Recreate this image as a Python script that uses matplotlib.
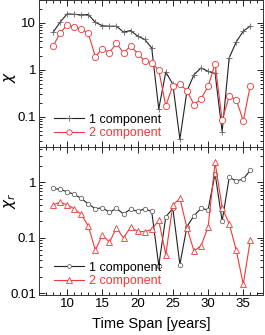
import matplotlib
matplotlib.use("Agg")
import matplotlib.pyplot as plt
from matplotlib.ticker import LogLocator, NullFormatter, MultipleLocator

plt.rcParams['font.family'] = ['Liberation Sans', 'DejaVu Sans']
plt.rcParams['mathtext.fontset'] = 'dejavusans'

years = list(range(8, 37))

chi_1comp = [6.2, 10.3, 15.4, 15.1, 14.6, 14.9, 10.2, 8.6, 8.4, 8.4, 6.3, 6.8, 5.2, 4.4, 2.9,
             0.146, 0.89, 0.49, 0.033, 0.35, 0.78, 1.09, 0.92, 0.83, 0.048, 1.78, 3.9, 6.6, 8.5]
chi_2comp = [3.14, 6.1, 8.9, 8.1, 7.3, 5.9, 1.9, 2.8, 2.3, 3.7, 2.25, 3.2, 2.2, 1.54, 1.39,
             0.98, 0.17, 0.46, 0.49, 0.36, 0.18, 0.24, 0.44, 1.33, 0.083, 0.275, 0.23, 0.082, 0.46]

chir_1comp = [0.78, 0.75, 0.68, 0.61, 0.515, 0.41, 0.335, 0.35, 0.29, 0.34, 0.27, 0.33, 0.30, 0.335, 0.30,
              0.0316, 0.24, 0.34, 0.033, 0.16, 0.25, 0.34, 0.32, 1.45, 0.20, 1.23, 1.07, 1.15, 1.67]
chir_2comp = [0.396, 0.44, 0.396, 0.335, 0.265, 0.163, 0.06, 0.113, 0.083, 0.153, 0.099, 0.157, 0.131, 0.129, 0.142,
              0.207, 0.05, 0.39, 0.515, 0.153, 0.058, 0.072, 0.155, 2.3, 0.35, 0.18, 0.06, 0.0145, 0.092]

labels = ['1 component', '2 component']
xlabel = 'Time Span [years]'

W, H = 265, 335
fig = plt.figure(figsize=(W / 100, H / 100), dpi=100)
l, r = 39 / W, 263 / W
ax1 = fig.add_axes([l, 1 - 147 / H, r - l, 147 / H])
ax2 = fig.add_axes([l, 1 - 295 / H, r - l, 148 / H])

black = '#222222'
gray = '#666666'
red = '#f03838'
lw = 0.8

ax1.plot(years, chi_1comp, color=black, lw=lw, marker='+', ms=5, mew=0.6, mec=gray, label=labels[0])
ax1.plot(years, chi_2comp, color=red, lw=lw, marker='o', ms=4.5, mew=0.6, mfc='white', mec=red, label=labels[1])
ax2.plot(years, chir_1comp, color=black, lw=lw, marker='o', ms=3.2, mew=0.6, mfc='white', mec=gray, label=labels[0])
ax2.plot(years, chir_2comp, color=red, lw=lw, marker='^', ms=4.5, mew=0.6, mfc='white', mec=red, label=labels[1])

for ax in (ax1, ax2):
    ax.set_yscale('log')
    ax.set_xlim(6.0, 37.8)
    ax.xaxis.set_major_locator(MultipleLocator(5))
    ax.xaxis.set_minor_locator(MultipleLocator(1))
    ax.yaxis.set_minor_locator(LogLocator(base=10, subs=range(2, 10), numticks=20))
    ax.yaxis.set_minor_formatter(NullFormatter())
    ax.tick_params(which='both', direction='in', top=True, right=True, labelsize=9.5, width=0.6, colors='black')
    ax.tick_params(which='major', length=4, pad=2)
    ax.tick_params(which='minor', length=2)
    for s in ax.spines.values():
        s.set_linewidth(0.7)
        s.set_color('#333333')
    leg = ax.legend(loc='lower left', bbox_to_anchor=(0.03, 0.0), frameon=False, fontsize=9,
                    handlelength=2.4, handletextpad=0.4, labelspacing=0.1, numpoints=1, borderaxespad=0.25,
                    markerscale=0.85)
    leg.get_texts()[1].set_color(red)

ax1.set_ylim(0.0226, 30.4)
ax1.set_yticks([0.1, 1, 10])
ax1.set_yticklabels(['0.1', '1', '10'])
ax1.tick_params(labelbottom=False)

ax2.set_ylim(0.0093, 4.37)
ax2.set_yticks([0.01, 0.1, 1])
ax2.set_yticklabels(['0.01', '0.1', '1'])

ax1.set_ylabel(r'$\chi$', fontsize=11)
ax1.yaxis.set_label_coords(-0.095, 0.476)
ax2.set_ylabel(r'$\chi_r$', fontsize=11)
ax2.yaxis.set_label_coords(-0.095, 0.64)
ax2.set_xlabel(xlabel, fontsize=10.5, labelpad=5)

fig.savefig('out.png', dpi=100)
